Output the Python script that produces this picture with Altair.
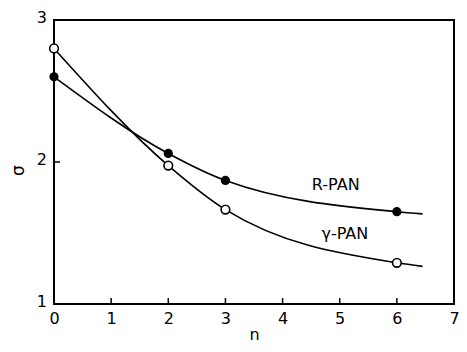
import altair as alt
import pandas as pd

# data
r_n = [0, 2, 3, 6]
r_sigma = [2.60, 2.06, 1.87, 1.65]
g_n = [0, 2, 3, 6]
g_sigma = [2.80, 1.975, 1.665, 1.29]
# curve ends (lines drawn a bit past last point)
r_curve_n = [0, 2, 3, 6, 6.45]
r_curve_s = [2.60, 2.06, 1.87, 1.65, 1.635]
g_curve_n = [0, 2, 3, 6, 6.45]
g_curve_s = [2.80, 1.975, 1.665, 1.29, 1.265]
x_ticks = [0, 1, 2, 3, 4, 5, 6, 7]
y_ticks = [1, 2, 3]
y_tick_labels = ["1", "2", "3"]
labels = ["R-PAN", "γ-PAN"]
label_n = [4.93, 5.09]
label_s = [1.84, 1.49]

W, H = 400, 284
FONT = "DejaVu Sans"

xs = alt.Scale(domain=[0, 7], nice=False)
ys = alt.Scale(domain=[1, 3], nice=False)

curves = pd.DataFrame({
    "n": r_curve_n + g_curve_n,
    "s": r_curve_s + g_curve_s,
    "series": ["R"] * len(r_curve_n) + ["G"] * len(g_curve_n),
})
rpts = pd.DataFrame({"n": r_n, "s": r_sigma})
gpts = pd.DataFrame({"n": g_n, "s": g_sigma})
lab = pd.DataFrame({"t": labels, "n": label_n, "s": label_s})
xt = pd.DataFrame({"v": x_ticks})
yt = pd.DataFrame({"v": y_ticks, "t": y_tick_labels})

xaxis = alt.Axis(values=x_ticks, format="d", ticks=False, domain=False,
                 grid=False, labelFlush=False, labelOverlap=False,
                 labelFontSize=16, labelPadding=6, labelColor="black",
                 labelFont=FONT, title="n", titleFontSize=16, titleFont=FONT,
                 titleFontWeight="normal", titlePadding=0, titleColor="black")
yaxis = alt.Axis(values=y_ticks, labels=False, ticks=False, domain=False,
                 grid=False, title="σ", titleFontSize=17, titleFont=FONT,
                 titleFontWeight="normal", titleX=-36, titleY=150,
                 titleBaseline="middle", titleColor="black")

lines = alt.Chart(curves).mark_line(interpolate="monotone", color="black",
                                    strokeWidth=1.6).encode(
    x=alt.X("n:Q", scale=xs, axis=xaxis),
    y=alt.Y("s:Q", scale=ys, axis=yaxis),
    detail="series:N",
)
rp = alt.Chart(rpts).mark_point(filled=True, color="black", size=85,
                                opacity=1, shape="circle").encode(
    x=alt.X("n:Q", scale=xs), y=alt.Y("s:Q", scale=ys))
gp = alt.Chart(gpts).mark_point(filled=True, fill="white", stroke="black",
                                strokeWidth=1.6, size=75, opacity=1,
                                shape="circle").encode(
    x=alt.X("n:Q", scale=xs), y=alt.Y("s:Q", scale=ys))
txt = alt.Chart(lab).mark_text(fontSize=16, font=FONT, color="black").encode(
    x=alt.X("n:Q", scale=xs), y=alt.Y("s:Q", scale=ys), text="t:N")
xtk = alt.Chart(xt).mark_rule(color="black", strokeWidth=1.5).encode(
    x=alt.X("v:Q", scale=xs), y=alt.value(H), y2=alt.value(H - 6))
ytk = alt.Chart(yt).mark_rule(color="black", strokeWidth=1.5).encode(
    y=alt.Y("v:Q", scale=ys), x=alt.value(0), x2=alt.value(6))
ylab = alt.Chart(yt).mark_text(fontSize=16, font=FONT, color="black",
                               align="right", baseline="middle",
                               dx=-7, dy=-2).encode(
    y=alt.Y("v:Q", scale=ys), x=alt.value(0), text="t:N")

chart = alt.layer(lines, rp, gp, txt, xtk, ytk, ylab).properties(
    width=W, height=H,
    autosize=alt.AutoSizeParams(type="none"),
    padding={"left": 46, "top": 12, "right": 5, "bottom": 40},
    background="white",
).configure_view(stroke="black", strokeWidth=2)

chart.save("out.html", embed_options={"renderer": "svg", "actions": False})
